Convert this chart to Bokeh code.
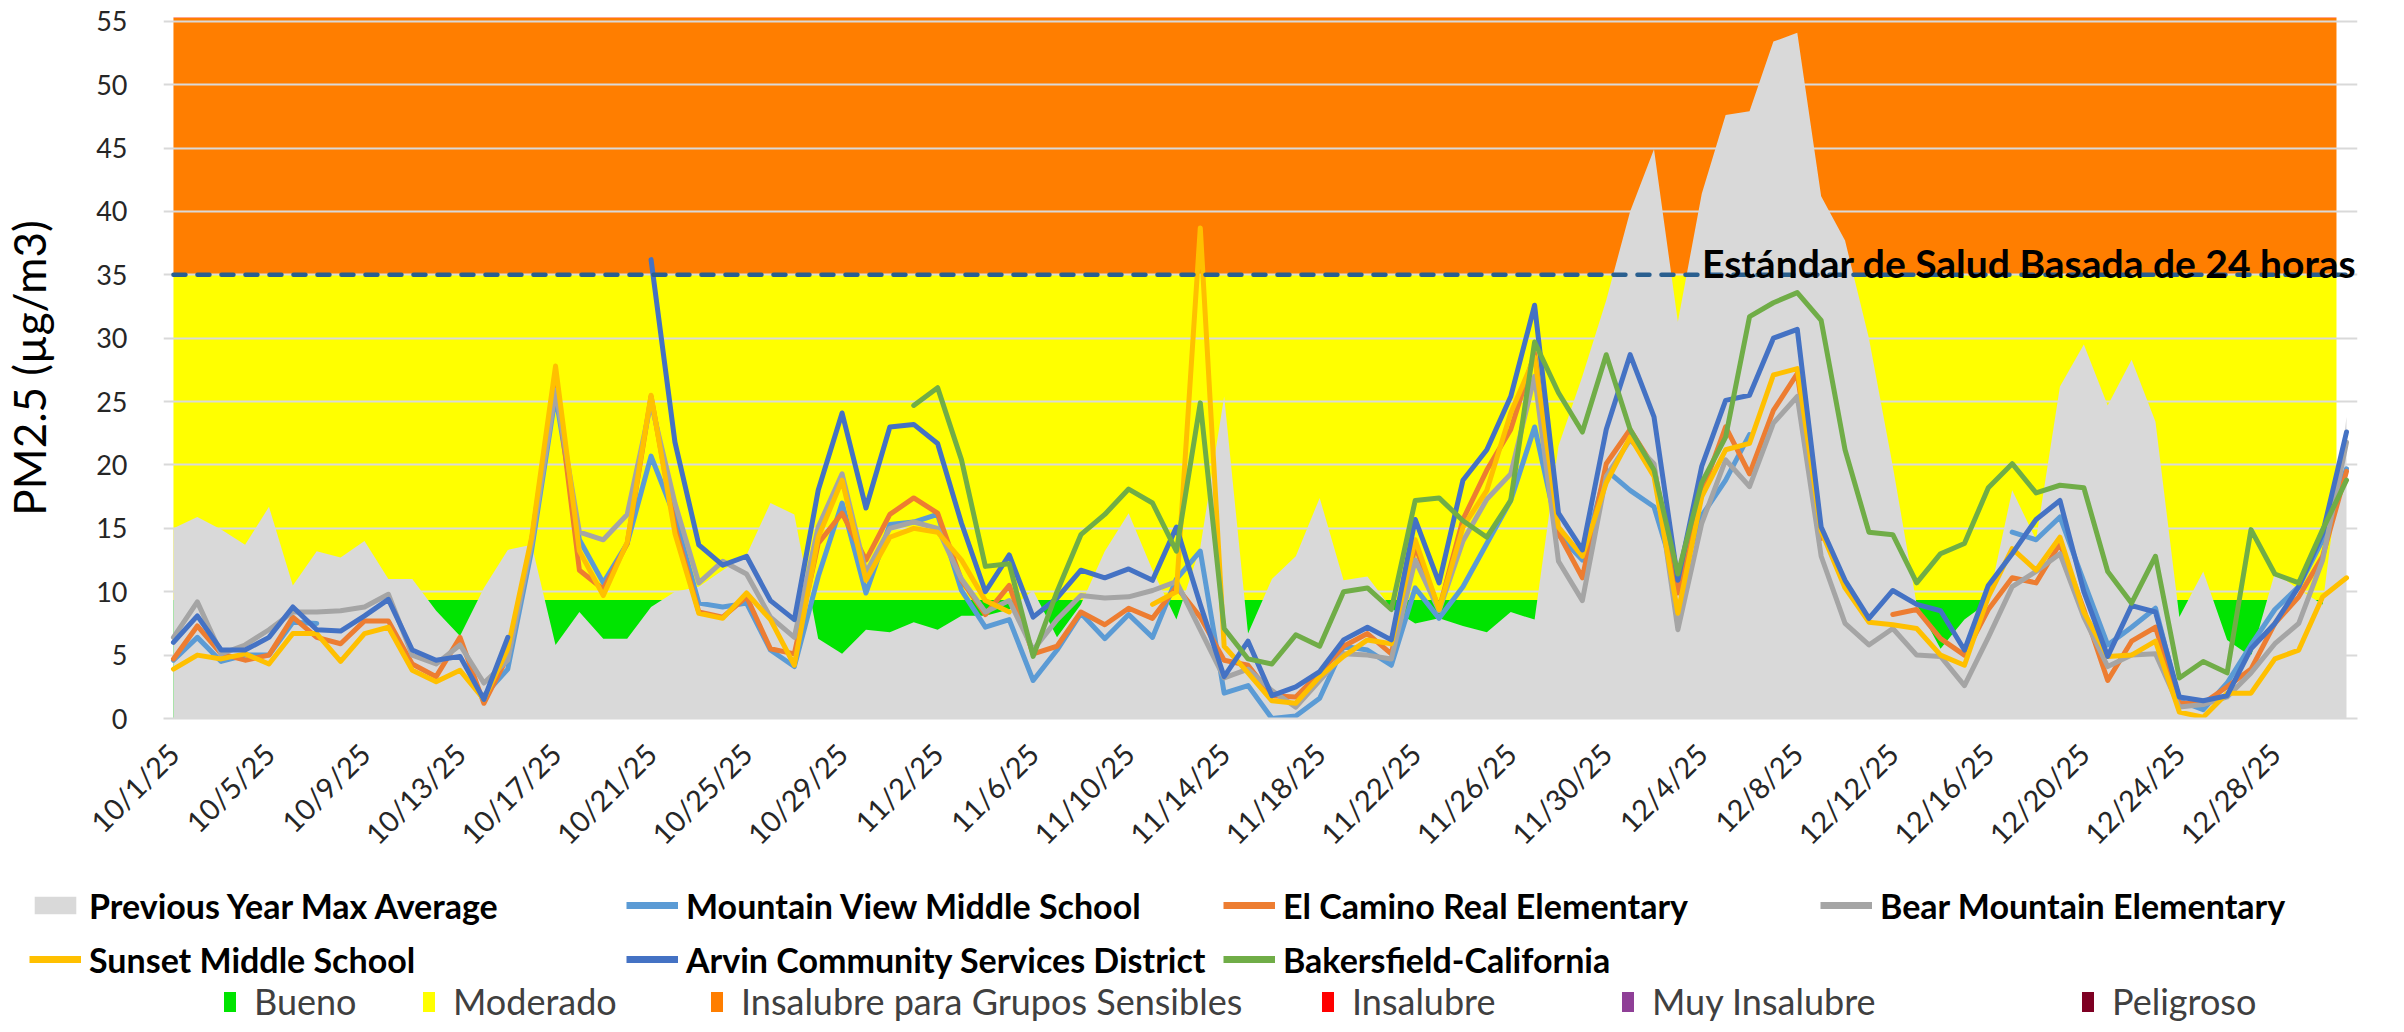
import math
import numpy as np
import pandas as pd
from bokeh.plotting import figure
from bokeh.layouts import column
from bokeh.models import (Range1d, FixedTicker, Legend, LegendItem, Label,
                          ColumnDataSource)
from bokeh.embed import file_html
from bokeh.resources import INLINE

N = None

# ---------------- data ----------------
DATES = [f"{d.month}/{d.day}/{d.year % 100}"
         for d in pd.date_range("2025-10-01", "2025-12-31")]
DAYS = list(range(len(DATES)))
TICK_DAYS = list(range(0, len(DATES), 4))

STANDARD = 35.0
STANDARD_TEXT = "Estándar de Salud Basada de 24 horas"

PREV_YEAR_MAX = [
    15.0, 15.9, 14.9, 13.7, 16.7, 10.5, 13.2, 12.7, 14.0, 11.0,
    11.0, 8.5, 6.5, 10.3, 13.3, 13.7, 5.8, 8.4, 6.3, 6.3,
    8.8, 10.0, 10.4, 11.7, 12.9, 17.0, 16.1, 6.3, 5.1, 7.0,
    6.8, 7.6, 7.0, 8.1, 8.1, 8.6, 10.1, 6.4, 9.0, 13.2,
    16.2, 11.7, 7.8, 13.5, 25.4, 6.7, 11.0, 12.8, 17.4, 10.9,
    11.2, 8.7, 7.5, 7.9, 7.3, 6.8, 8.4, 7.8, 21.5, 27.0,
    33.0, 40.0, 44.9, 31.3, 41.4, 47.6, 47.9, 53.4, 54.1, 41.2,
    37.7, 30.0, 19.9, 9.0, 5.5, 7.8, 9.2, 18.0, 14.1, 26.2,
    29.5, 24.7, 28.3, 23.4, 8.0, 11.6, 6.2, 4.9, 11.5, 10.2,
    9.0, 23.8]

MOUNTAIN_VIEW = [
    4.6, 6.4, 4.5, 5.0, 5.0, 7.6, 7.5, N, N, N,
    N, N, N, 1.8, 3.9, 13.3, 25.5, 14.1, 10.7, 13.8,
    20.7, 15.9, 9.1, 8.8, 9.1, 5.4, 4.1, 11.2, 17.0, 9.9,
    15.3, 15.5, 16.1, 10.1, 7.2, 7.8, 3.0, 5.4, 8.3, 6.3,
    8.2, 6.4, 11.0, 13.2, 2.0, 2.6, 0.0, 0.2, 1.6, 5.7,
    5.4, 4.2, 10.3, 7.9, 10.4, 13.8, 17.2, 23.0, 14.5, 12.5,
    19.6, 18.0, 16.7, 10.5, 16.0, 18.8, 22.4, N, N, N,
    N, N, N, N, N, N, N, 14.7, 14.1, 15.9,
    10.8, 5.8, 7.2, 8.7, 1.4, 0.7, 2.8, 5.8, 8.6, 10.4,
    14.1, 19.7]

EL_CAMINO = [
    4.7, 7.3, 5.1, 4.6, 5.0, 8.0, 6.4, 5.9, 7.7, 7.7,
    4.3, 3.3, 6.4, 1.2, 4.9, 14.1, 27.0, 11.7, 10.2, 13.8,
    25.4, 15.1, 8.4, 8.0, 9.6, 5.5, 5.1, 13.8, 16.2, 12.5,
    16.1, 17.4, 16.2, 10.9, 8.2, 10.5, 5.1, 5.7, 8.4, 7.4,
    8.7, 7.9, 10.4, 8.0, 4.6, 4.2, 1.8, 1.7, 3.6, 5.7,
    6.7, 5.1, 13.6, 8.6, 15.7, 19.6, 22.8, 28.8, 14.6, 11.1,
    20.1, 22.8, 19.8, 9.9, 17.8, 23.0, 19.3, 24.3, 27.2, 14.2,
    N, N, 8.2, 8.6, 6.3, 5.0, 8.6, 11.1, 10.7, 13.8,
    8.6, 3.0, 6.1, 7.2, 1.2, 1.2, 2.5, 3.9, 7.5, 9.6,
    12.8, 19.5]

BEAR_MOUNTAIN = [
    6.4, 9.2, 5.1, 5.8, 7.0, 8.4, 8.4, 8.5, 8.8, 9.8,
    5.0, 4.3, 5.8, 2.8, 4.6, 13.8, 25.9, 14.7, 14.1, 16.1,
    24.9, 17.0, 10.7, 12.4, 11.4, 8.0, 6.4, 15.1, 19.3, 11.5,
    15.0, 15.5, 15.0, 11.0, 8.4, 9.3, 5.4, 7.8, 9.7, 9.5,
    9.6, 10.1, 10.8, 7.0, 3.2, 3.9, 2.2, 0.9, 3.0, 5.1,
    5.0, 4.7, 12.5, 8.5, 14.0, 17.3, 19.3, 27.0, 12.4, 9.3,
    19.1, 22.0, 20.1, 7.0, 15.4, 20.4, 18.3, 23.3, 25.4, 12.8,
    7.5, 5.8, 7.1, 5.0, 4.9, 2.6, 6.4, 10.4, 11.6, 13.0,
    8.0, 4.1, 5.0, 5.1, 0.9, 1.1, 1.7, 3.6, 5.9, 7.5,
    12.5, 21.8]

SUNSET = [
    3.9, 5.0, 4.7, 5.1, 4.3, 6.7, 6.7, 4.5, 6.7, 7.2,
    3.8, 2.9, 3.8, 1.5, 5.5, 14.3, 27.8, 13.2, 9.7, 13.9,
    25.5, 14.6, 8.3, 7.9, 9.9, 7.8, 4.2, 14.3, 18.8, 10.9,
    14.3, 15.0, 14.7, 12.5, 9.3, 8.4, N, N, N, N,
    N, 9.0, 10.0, 38.7, 5.7, 3.6, 1.4, 1.2, 3.3, 4.9,
    6.2, 5.9, 14.1, 8.6, 15.1, 18.0, 24.1, 28.5, 15.1, 12.8,
    18.6, 22.2, 19.1, 8.3, 17.5, 21.2, 21.7, 27.1, 27.6, 14.8,
    10.3, 7.6, 7.4, 7.1, 5.0, 4.2, 9.6, 13.4, 11.7, 14.3,
    8.4, 4.9, 5.0, 6.1, 0.5, 0.1, 2.0, 2.0, 4.7, 5.4,
    9.6, 11.1]

ARVIN = [
    6.0, 8.1, 5.4, 5.4, 6.4, 8.8, 7.0, 6.9, 8.1, 9.4,
    5.4, 4.6, 4.9, 1.5, 6.4, N, N, N, N, N,
    36.2, 21.8, 13.7, 12.1, 12.8, 9.3, 7.8, 18.0, 24.1, 16.6,
    23.0, 23.2, 21.7, 15.4, 10.0, 12.9, 8.0, 9.5, 11.7, 11.1,
    11.8, 10.9, 15.1, 9.0, 3.3, 6.1, 1.8, 2.5, 3.7, 6.2,
    7.2, 6.2, 15.7, 10.7, 18.8, 21.2, 25.4, 32.6, 16.2, 13.3,
    22.8, 28.7, 23.8, 10.9, 19.9, 25.1, 25.5, 30.0, 30.7, 15.1,
    10.9, 7.9, 10.1, 9.0, 8.5, 5.4, 10.5, 13.0, 15.7, 17.2,
    10.0, 4.9, 8.9, 8.4, 1.7, 1.4, 1.8, 5.5, 7.5, 10.4,
    14.6, 22.6]

BAKERSFIELD = [
    N, N, N, N, N, N, N, N, N, N,
    N, N, N, N, N, N, N, N, N, N,
    N, N, N, N, N, N, N, N, N, N,
    N, 24.7, 26.1, 20.4, 12.0, 12.2, 4.9, 10.0, 14.5, 16.1,
    18.1, 17.0, 13.2, 24.9, 7.1, 4.7, 4.3, 6.6, 5.7, 10.0,
    10.3, 8.6, 17.2, 17.4, 15.6, 14.3, 17.2, 29.7, 25.7, 22.6,
    28.7, 22.8, 19.6, 11.4, 18.6, 22.2, 31.7, 32.8, 33.6, 31.4,
    21.2, 14.7, 14.5, 10.7, 13.0, 13.8, 18.2, 20.1, 17.8, 18.4,
    18.2, 11.6, 9.1, 12.8, 3.2, 4.5, 3.6, 14.9, 11.4, 10.7,
    14.9, 18.8]

SERIES_NAMES = ["Mountain View Middle School", "El Camino Real Elementary",
                "Bear Mountain Elementary", "Sunset Middle School",
                "Arvin Community Services District", "Bakersfield-California"]
SERIES_VALUES = [MOUNTAIN_VIEW, EL_CAMINO, BEAR_MOUNTAIN, SUNSET, ARVIN, BAKERSFIELD]
SERIES_COLORS = ["#5B9BD5", "#ED7D31", "#A5A5A5", "#FFC000", "#4472C4", "#70AD47"]
PREV_NAME = "Previous Year Max Average"
PREV_COLOR = "#D9D9D9"

BAND_NAMES = ["Bueno", "Moderado", "Insalubre para Grupos Sensibles",
              "Insalubre", "Muy Insalubre", "Peligroso"]
BAND_LOW = [0.0, 9.35, 35.0, 55.3, 150.5, 250.5]
BAND_HIGH = [9.35, 35.0, 55.3, 150.4, 250.4, 500.0]
BAND_COLORS = ["#00E400", "#FFFF00", "#FF7E00", "#FF0000", "#8F3F97", "#7E0023"]

# ---------------- layout constants ----------------
FONT = "Lato"
W = 2388
H_CHART = 878
H_LEGEND = 146
BAND_RIGHT = DAYS[-1] - 0.42   # colour bands stop just short of the last day
CAT_LEGEND_X = [222, 421, 709, 1320, 1620, 2080]

p = figure(width=W, height=H_CHART, output_backend="svg", toolbar_location=None,
           x_range=Range1d(-0.417, 91.46), y_range=Range1d(0, 55.3),
           min_border_left=156, min_border_right=31, min_border_top=17,
           min_border_bottom=160, outline_line_color=None,
           background_fill_color="white", border_fill_color="white")

# colour bands (drawn beneath the grid)
band_src = ColumnDataSource(dict(left=[DAYS[0]] * len(BAND_NAMES),
                                 right=[BAND_RIGHT] * len(BAND_NAMES),
                                 bottom=BAND_LOW, top=BAND_HIGH, color=BAND_COLORS))
band_r = p.quad(left="left", right="right", bottom="bottom", top="top",
                fill_color="color", line_color=None, source=band_src)
band_r.level = "image"

# previous year area
p.varea(x=DAYS, y1=[0] * len(DAYS), y2=PREV_YEAR_MAX, fill_color=PREV_COLOR)

for vals, col in zip(SERIES_VALUES, SERIES_COLORS):
    p.line(x=DAYS, y=np.array(vals, dtype=float), line_color=col,
           line_width=5, line_join="round", line_cap="round")

# 24 h standard
p.line(x=[DAYS[0], DAYS[-1]], y=[STANDARD, STANDARD], line_color="#2A5F8F",
       line_width=4.5, line_dash="12 12", line_cap="round")
p.add_layout(Label(x=DAYS[-1], y=STANDARD, x_offset=10, y_offset=12,
                   text=STANDARD_TEXT, text_align="right",
                   text_baseline="alphabetic", text_font=FONT,
                   text_font_style="bold", text_font_size="39px",
                   text_color="black"))

# axes & grid
p.xgrid.visible = False
p.ygrid.grid_line_color = "#D9D9D9"
p.ygrid.grid_line_width = 2
p.yaxis.ticker = FixedTicker(ticks=list(range(0, 56, 5)))
p.yaxis.axis_line_color = None
p.yaxis.major_tick_line_color = None
p.yaxis.minor_tick_line_color = None
p.yaxis.major_tick_out = 0
p.yaxis.major_label_standoff = 36
p.yaxis.major_label_text_font = FONT
p.yaxis.major_label_text_font_size = "27px"
p.yaxis.major_label_text_color = "#262626"
p.yaxis.axis_label = "PM2.5 (µg/m3)"
p.yaxis.axis_label_text_font = FONT
p.yaxis.axis_label_text_font_size = "44px"
p.yaxis.axis_label_text_font_style = "normal"
p.yaxis.axis_label_text_color = "black"
p.yaxis.axis_label_standoff = 38

p.xaxis.ticker = FixedTicker(ticks=TICK_DAYS)
p.xaxis.major_label_overrides = {d: DATES[d] for d in TICK_DAYS}
p.xaxis.major_label_orientation = math.pi / 4
p.xaxis.axis_line_color = "#D9D9D9"
p.xaxis.axis_line_width = 2
p.xaxis.major_tick_line_color = None
p.xaxis.minor_tick_line_color = None
p.xaxis.major_tick_out = 0
p.xaxis.major_label_standoff = 30
p.xaxis.major_label_text_font = FONT
p.xaxis.major_label_text_font_size = "29px"
p.xaxis.major_label_text_color = "#262626"

# ---------------- legend strip ----------------
# The key renderers hold the same data but sit outside this strip's ranges,
# so only their legend entries show.
q = figure(width=W, height=H_LEGEND, output_backend="svg", toolbar_location=None,
           x_range=Range1d(-10, -9), y_range=Range1d(-10, -9),
           x_axis_type=None, y_axis_type=None, min_border=0,
           outline_line_color=None, background_fill_color="white",
           border_fill_color="white")
q.frame_align = False
q.grid.visible = False

key_area = q.varea(x=DAYS, y1=[0] * len(DAYS), y2=PREV_YEAR_MAX, fill_color=PREV_COLOR)
key_lines = [q.line(x=DAYS, y=np.array(v, dtype=float), line_color=c, line_width=7)
             for v, c in zip(SERIES_VALUES, SERIES_COLORS)]
key_bands = q.quad(left="left", right="right", bottom="bottom", top="top",
                   fill_color="color", line_color=None, source=band_src)

items = [LegendItem(label=PREV_NAME, renderers=[key_area])]
items += [LegendItem(label=n, renderers=[r]) for n, r in zip(SERIES_NAMES, key_lines)]
leg = Legend(items=items, location=(29, 43), orientation="horizontal", ncols=4,
             glyph_width=52, glyph_height=22, label_standoff=8, label_width=527,
             label_height=44, spacing=10, padding=0, margin=0,
             border_line_color=None, background_fill_alpha=0,
             label_text_font=FONT, label_text_font_style="bold",
             label_text_font_size="34px", label_text_color="black")
q.add_layout(leg)

for i, (name, x0) in enumerate(zip(BAND_NAMES, CAT_LEGEND_X)):
    cl = Legend(items=[LegendItem(label=name, renderers=[key_bands], index=i)],
                location=(x0, 1), glyph_width=15, glyph_height=25,
                label_standoff=17, label_height=42, padding=0, margin=0,
                border_line_color=None, background_fill_alpha=0,
                label_text_font=FONT, label_text_font_size="36px",
                label_text_color="#404040")
    q.add_layout(cl)

layout = column(p, q, spacing=0)
open("out.html", "w").write(file_html(layout, INLINE))
